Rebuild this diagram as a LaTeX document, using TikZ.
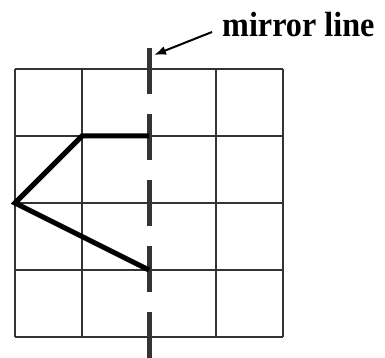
\documentclass[tikz,border=0pt]{standalone}
\usepackage{fontspec}
\setmainfont{Liberation Serif}
\usetikzlibrary{arrows.meta}
\begin{document}
\begin{tikzpicture}[x=1pt,y=-1pt,
  gridline/.style={draw=black!80,line width=2pt},
  mirror/.style={draw=black!80,line width=5pt,dash pattern=on 46pt off 20pt},
  outline/.style={draw=black,line width=5pt,line join=miter},
  lbl/.style={font=\bfseries\fontsize{35}{35}\selectfont,inner sep=0pt,anchor=base west,xscale=0.92}]
\useasboundingbox (0,0) rectangle (385,358);
\foreach \i in {0,1,3,4}{
  \draw[gridline] (15+67*\i,69) -- (15+67*\i,337);
}
\foreach \i in {0,...,4}{
  \draw[gridline] (15,69+67*\i) -- (283,69+67*\i);
}
\coordinate (mtop) at (149,48);
\coordinate (mbot) at (149,358);
\draw[mirror] (mtop) -- (mbot);
\coordinate (a) at (149,136);
\coordinate (b) at (82,136);
\coordinate (c) at (15,203);
\coordinate (d) at (149,270);
\draw[outline] (a) -- (b) -- (c) -- (d);
\node[lbl] (t) at (222,37) {mirror line};
\coordinate (as) at (212,32);
\coordinate (ae) at (154,55);
\draw[-{Latex[length=12pt,width=9pt]},line width=2pt] (as) -- (ae);
\end{tikzpicture}
\end{document}
